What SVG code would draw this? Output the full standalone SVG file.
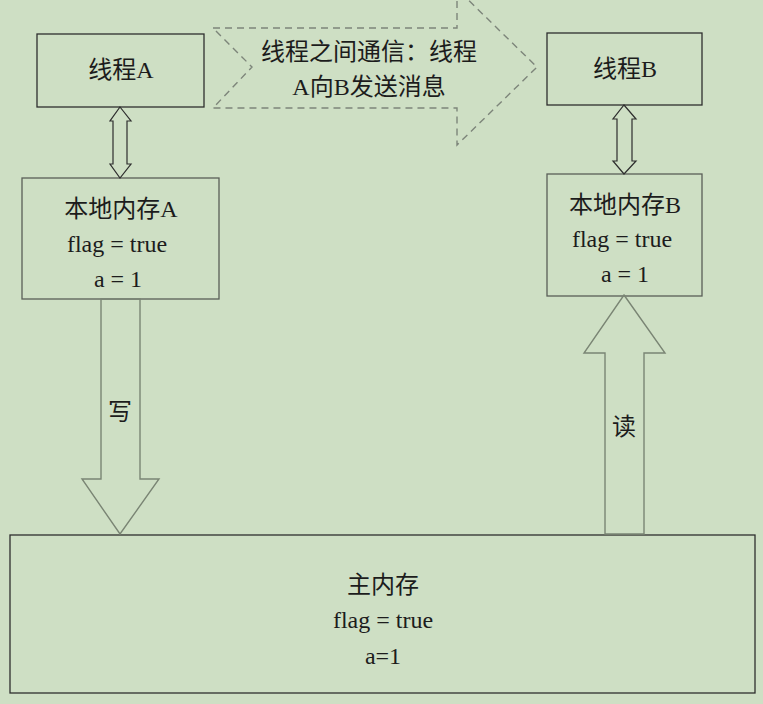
<svg xmlns="http://www.w3.org/2000/svg" width="763" height="704" viewBox="0 0 763 704">
<style>
text{font-family:"Liberation Serif","Noto Sans CJK SC",serif;font-size:24px;fill:#1c1c1c;text-anchor:middle}
.box{fill:none;stroke:#2e2e2e;stroke-width:1.3}
.lbox{fill:none;stroke:#5a5f58;stroke-width:1.3}
.dbl{fill:none;stroke:#2e2e2e;stroke-width:1.2}
.blk{fill:none;stroke:#7a8574;stroke-width:1.4}
.dash{fill:none;stroke:#7d857a;stroke-width:1.4;stroke-dasharray:7 5}
</style>
<rect width="763" height="704" fill="#cedfc4"/>
<g id="message">
<polygon class="dash" points="213,28 457,28 457,-11 537,67 457,145 457,108 213,108 252,67"/>
<text x="369" y="60">线程之间通信：线程</text>
<text x="369" y="95">A向B发送消息</text>
</g>
<g id="threadA">
<rect class="box" x="37" y="34" width="167" height="73"/>
<text x="121" y="78">线程A</text>
</g>
<g id="threadB">
<rect class="box" x="547" y="33" width="155" height="72"/>
<text x="625" y="77">线程B</text>
</g>
<g id="localA">
<rect class="lbox" x="22" y="178" width="197" height="121"/>
<text x="121" y="217">本地内存A</text>
<text x="117" y="252">flag = true</text>
<text x="118" y="287">a = 1</text>
</g>
<g id="localB">
<rect class="lbox" x="547" y="174" width="155" height="122"/>
<text x="625" y="213">本地内存B</text>
<text x="622" y="247">flag = true</text>
<text x="625" y="282">a = 1</text>
</g>
<g id="mainMem">
<rect class="box" x="10" y="535" width="745" height="158"/>
<text x="383" y="593">主内存</text>
<text x="383" y="628">flag = true</text>
<text x="383" y="664">a=1</text>
</g>
<g id="connectors">
<polygon class="dbl" points="120,107 131,121 127,121 127,164 131,164 120,178 110,164 113,164 113,121 110,121"/>
<polygon class="dbl" points="624,105 636,119 632,119 632,161 636,161 624,174 613,161 617,161 617,119 613,119"/>
<polygon class="blk" points="101,299 140,299 140,479 159,479 120,534 82,479 101,479"/>
<text x="120" y="420">写</text>
<polygon class="blk" points="624,295 665,353 644,353 644,534 605,534 605,353 584,353"/>
<text x="624" y="435">读</text>
</g>
</svg>
